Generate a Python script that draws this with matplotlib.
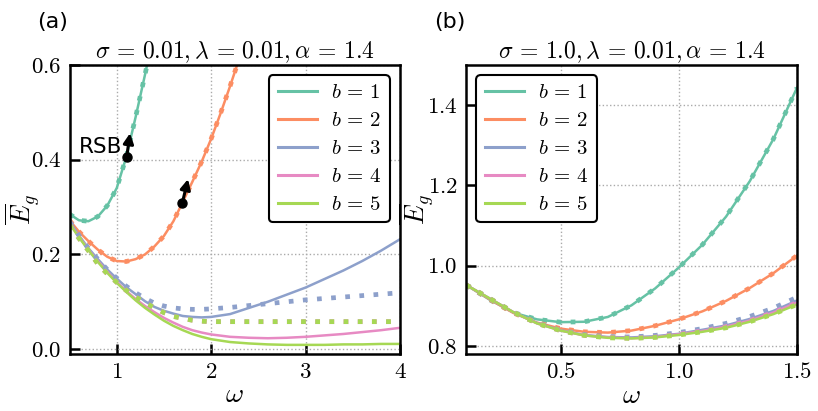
import matplotlib
matplotlib.use("Agg")
from matplotlib import pyplot as plt

plt.rcParams['mathtext.fontset'] = 'cm'
plt.rcParams['font.family'] = 'serif'
plt.rcParams['font.serif'] = ['cmr10', 'DejaVu Serif']
plt.rcParams['axes.formatter.use_mathtext'] = True
plt.rcParams['axes.unicode_minus'] = False

colors = ["#66c2a5", "#fc8d62", "#8da0cb", "#e78ac3", "#a6d854"]
labels = [r"$b\, =\, 1$", r"$b\, =\, 2$", r"$b\, =\, 3$", r"$b\, =\, 4$",
          r"$b\, =\, 5$"]

# ---- panel (a): sigma = 0.01 ----
wa_b1 = [0.5, 0.6, 0.7, 0.8, 0.9, 1.0, 1.1, 1.2, 1.3, 1.4]
ea_b1 = [0.285, 0.272, 0.270, 0.280, 0.303, 0.340, 0.405, 0.490, 0.580, 0.675]

wa_b2 = [0.5, 0.6, 0.7, 0.8, 0.9, 1.0, 1.1, 1.2, 1.3, 1.4, 1.5, 1.6, 1.7,
         1.8, 1.9, 2.0, 2.1, 2.2, 2.3, 2.4]
ea_b2 = [0.272, 0.248, 0.228, 0.210, 0.195, 0.186, 0.185, 0.190, 0.200,
         0.217, 0.239, 0.270, 0.311, 0.353, 0.396, 0.444, 0.498, 0.555,
         0.615, 0.68]

wa = [0.5, 0.6, 0.7, 0.8, 0.9, 1.0, 1.1, 1.2, 1.3, 1.4, 1.5, 1.6, 1.7, 1.8,
      1.9, 2.0, 2.2, 2.4, 2.6, 2.8, 3.0, 3.2, 3.4, 3.6, 3.8, 4.0]
ea_b3 = [0.270, 0.240, 0.213, 0.190, 0.168, 0.149, 0.131, 0.116, 0.101,
         0.089, 0.081, 0.075, 0.070, 0.068, 0.067, 0.068, 0.074, 0.087,
         0.100, 0.115, 0.130, 0.148, 0.166, 0.186, 0.208, 0.232]
ea_b4 = [0.266, 0.237, 0.210, 0.186, 0.163, 0.142, 0.123, 0.106, 0.091,
         0.078, 0.066, 0.056, 0.047, 0.040, 0.035, 0.031, 0.026, 0.024,
         0.023, 0.024, 0.026, 0.029, 0.032, 0.036, 0.040, 0.045]
ea_b5 = [0.265, 0.236, 0.209, 0.184, 0.161, 0.140, 0.121, 0.103, 0.087,
         0.073, 0.060, 0.049, 0.040, 0.032, 0.026, 0.021, 0.015, 0.012,
         0.010, 0.009, 0.009, 0.009, 0.010, 0.010, 0.011, 0.011]
# replica-symmetric (dotted) counterparts
ea_b3_rs = [0.270, 0.240, 0.213, 0.190, 0.168, 0.150, 0.133, 0.119, 0.107,
            0.097, 0.091, 0.087, 0.085, 0.084, 0.084, 0.085, 0.088, 0.092,
            0.096, 0.100, 0.104, 0.107, 0.110, 0.113, 0.116, 0.119]
ea_b4_rs = [0.262, 0.234, 0.208, 0.180, 0.159, 0.141, 0.124, 0.110, 0.098,
            0.087, 0.077, 0.069, 0.065, 0.061, 0.059, 0.058, 0.058, 0.058,
            0.058, 0.058, 0.058, 0.058, 0.058, 0.058, 0.058, 0.058]
ea_b5_rs = [0.262, 0.234, 0.208, 0.180, 0.159, 0.141, 0.124, 0.110, 0.098,
            0.087, 0.077, 0.069, 0.065, 0.061, 0.059, 0.058, 0.058, 0.058,
            0.058, 0.058, 0.058, 0.058, 0.058, 0.058, 0.058, 0.058]

# RSB points: (omega, E) and arrow offsets
rsb_w = [1.106, 1.695]
rsb_e = [0.406, 0.309]
rsb_dw = [0.035, 0.06]
rsb_de = [0.05, 0.05]

# ---- panel (b): sigma = 1.0 ----
wb = [0.1, 0.2, 0.3, 0.4, 0.5, 0.6, 0.7, 0.8, 0.9, 1.0, 1.1, 1.2, 1.3, 1.4, 1.5]
eb_b1 = [0.952, 0.915, 0.883, 0.866, 0.859, 0.860, 0.872, 0.901, 0.943,
         0.995, 1.052, 1.122, 1.210, 1.315, 1.443]
eb_b2 = [0.952, 0.916, 0.882, 0.858, 0.843, 0.835, 0.833, 0.838, 0.850,
         0.866, 0.886, 0.912, 0.944, 0.981, 1.025]
eb_b3 = [0.952, 0.918, 0.884, 0.857, 0.839, 0.827, 0.822, 0.821, 0.824,
         0.830, 0.840, 0.851, 0.867, 0.887, 0.913]
eb_b4 = [0.952, 0.918, 0.884, 0.856, 0.838, 0.826, 0.821, 0.819, 0.822,
         0.829, 0.837, 0.848, 0.863, 0.883, 0.908]
eb_b5 = [0.952, 0.918, 0.884, 0.856, 0.838, 0.826, 0.820, 0.8185, 0.821,
         0.827, 0.835, 0.845, 0.860, 0.879, 0.903]
eb_b3_rs = [0.952, 0.918, 0.884, 0.857, 0.839, 0.828, 0.823, 0.822, 0.826,
            0.833, 0.843, 0.856, 0.873, 0.894, 0.921]

fig = plt.figure(figsize=(8.18, 4.11), dpi=100)
ax1 = fig.add_axes([0.085, 0.139, 0.404, 0.703])
ax2 = fig.add_axes([0.5697, 0.139, 0.4046, 0.703])

solid_lw = 1.8
dot_lw = 3.4

# panel (a)
ax1.plot(wa_b1, ea_b1, color=colors[0], lw=solid_lw, label=labels[0])
ax1.plot(wa_b2, ea_b2, color=colors[1], lw=solid_lw, label=labels[1])
ax1.plot(wa, ea_b3, color=colors[2], lw=solid_lw, label=labels[2])
ax1.plot(wa, ea_b4, color=colors[3], lw=solid_lw, label=labels[3])
ax1.plot(wa, ea_b5, color=colors[4], lw=solid_lw, label=labels[4])
ax1.plot(wa_b1, ea_b1, color=colors[0], lw=dot_lw, ls=(0, (1, 2)))
ax1.plot(wa_b2, ea_b2, color=colors[1], lw=dot_lw, ls=(0, (1, 2)))
ax1.plot(wa, ea_b3_rs, color=colors[2], lw=dot_lw, ls=(0, (1, 2)))
ax1.plot(wa, ea_b4_rs, color=colors[3], lw=dot_lw, ls=(0, (1, 2)))
ax1.plot(wa, ea_b5_rs, color=colors[4], lw=dot_lw, ls=(0, (1, 2)))

for w, e, dw, de in zip(rsb_w, rsb_e, rsb_dw, rsb_de):
    ax1.plot(w, e, 'o', color='black', ms=6.5, zorder=6)
    ax1.annotate('', xy=(w + dw, e + de), xytext=(w, e),
                 arrowprops=dict(arrowstyle='-|>', color='black', lw=2.2,
                                 mutation_scale=15, shrinkA=0, shrinkB=0),
                 zorder=6)
ax1.text(1.06, 0.427, 'RSB', family='DejaVu Sans', fontsize=15.5,
         ha='right', va='center')

ax1.set_xlim(0.5, 4)
ax1.set_ylim(-0.01, 0.6)
ax1.set_xticks([1, 2, 3, 4])
ax1.set_yticks([0.0, 0.2, 0.4, 0.6])
ax1.set_title(r'$\sigma\, =\, 0.01, \lambda\, =\, 0.01, \alpha\, =\, 1.4$',
              fontsize=17, pad=5)

# panel (b)
ax2.plot(wb, eb_b1, color=colors[0], lw=solid_lw, label=labels[0])
ax2.plot(wb, eb_b2, color=colors[1], lw=solid_lw, label=labels[1])
ax2.plot(wb, eb_b3, color=colors[2], lw=solid_lw, label=labels[2])
ax2.plot(wb, eb_b4, color=colors[3], lw=solid_lw, label=labels[3])
ax2.plot(wb, eb_b5, color=colors[4], lw=solid_lw, label=labels[4])
ax2.plot(wb, eb_b1, color=colors[0], lw=dot_lw, ls=(0, (1, 2)))
ax2.plot(wb, eb_b2, color=colors[1], lw=dot_lw, ls=(0, (1, 2)))
ax2.plot(wb, eb_b3_rs, color=colors[2], lw=dot_lw, ls=(0, (1, 2)))
ax2.plot(wb, eb_b4, color=colors[3], lw=dot_lw, ls=(0, (1, 2)))
ax2.plot(wb, eb_b5, color=colors[4], lw=dot_lw, ls=(0, (1, 2)))

ax2.set_xlim(0.1, 1.5)
ax2.set_ylim(0.78, 1.5)
ax2.set_xticks([0.5, 1.0, 1.5])
ax2.set_yticks([0.8, 1.0, 1.2, 1.4])
ax2.set_title(r'$\sigma\, =\, 1.0, \lambda\, =\, 0.01, \alpha\, =\, 1.4$',
              fontsize=17, pad=5)

for ax, loc, ylx in ((ax1, 'upper right', -0.082), (ax2, 'upper left', -0.09)):
    ax.grid(True, ls=':', color='#aaaaaa', lw=1.0)
    ax.set_axisbelow(True)
    for s in ax.spines.values():
        s.set_linewidth(1.8)
    ax.tick_params(direction='in', length=7, width=1.8, labelsize=16.5,
                   top=False, right=False, pad=6)
    ax.set_xlabel(r'$\omega$', fontsize=20, labelpad=0)
    ax.set_ylabel(r'$\overline{E}_g$', fontsize=19)
    ax.yaxis.set_label_coords(ylx, 0.5)
    leg = ax.legend(loc=loc, fontsize=15, handlelength=1.9, labelspacing=0.45,
                    handletextpad=0.65, borderaxespad=0.5, fancybox=True,
                    framealpha=1, edgecolor='black')
    leg.get_frame().set_linewidth(1.5)
    for h in leg.get_lines():
        h.set_linewidth(2.2)

fig.text(0.045, 0.946, '(a)', family='DejaVu Sans', fontsize=16,
         ha='left', va='center')
fig.text(0.531, 0.946, '(b)', family='DejaVu Sans', fontsize=16,
         ha='left', va='center')

fig.savefig('out.png', dpi=100)
